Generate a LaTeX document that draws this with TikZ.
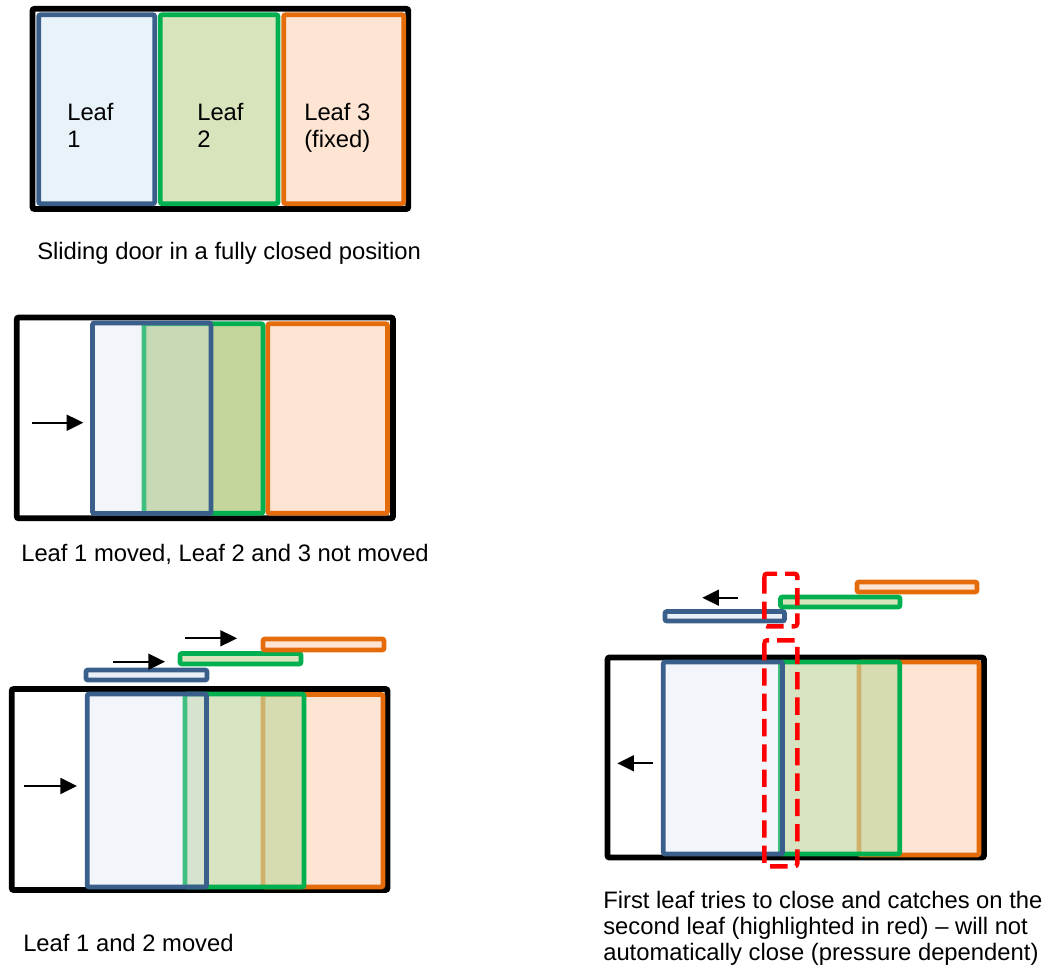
\documentclass[tikz,border=0pt]{standalone}
\usepackage{fontspec}
\setmainfont{Liberation Sans}
\usetikzlibrary{arrows.meta}
\definecolor{bluS}{HTML}{3A5F8B}
\definecolor{bluF}{HTML}{E7F2F9}
\definecolor{bluT}{RGB}{212,228,242}
\definecolor{bluB}{HTML}{E9EFF6}
\definecolor{grnS}{HTML}{00B050}
\definecolor{grnF}{HTML}{D8E4BC}
\definecolor{grnD}{RGB}{196,214,156}
\definecolor{grnT}{RGB}{196,215,160}
\definecolor{orgS}{HTML}{E46C0A}
\definecolor{orgF}{HTML}{FDE4D3}
\begin{document}
\begin{tikzpicture}[x=0.75pt,y=-0.75pt,
  frame/.style={draw=black,line width=4.3pt,rounded corners=1.5pt,fill=white},
  edgeblue/.style={draw=bluS,line width=3.6pt,rounded corners=1.5pt},
  edgegreen/.style={draw=grnS,line width=3.6pt,rounded corners=1.5pt},
  edgeorange/.style={draw=orgS,line width=3.6pt,rounded corners=1.5pt},
  bluetrans/.style={edgeblue,fill=bluT,fill opacity=0.3,draw opacity=1},
  greentrans/.style={edgegreen,fill=grnT,fill opacity=0.65,draw opacity=1},
  barblue/.style={edgeblue,fill=bluB},
  bargreen/.style={edgegreen,fill=grnF},
  barorange/.style={edgeorange,fill=orgF},
  mv/.style={-{Triangle[length=12.5pt,width=12pt]},line width=1.4pt,draw=black},
  lbl/.style={font=\fontsize{17.85}{20.25}\selectfont,inner sep=0pt,align=left},
  captext/.style={font=\fontsize{17.85}{19.5}\selectfont,inner sep=0pt,align=left},
  redbox/.style={draw=red,line width=3.3pt,dash pattern=on 13pt off 6pt,rounded corners=2pt}]
\useasboundingbox (0,0) rectangle (1053,972);

% ---------- Diagram 1: fully closed ----------
\draw[frame] (32.5,8.8) rectangle (408.3,209);
\draw[edgeblue,fill=bluF] (38.7,14.7) rectangle (154.7,203.7);
\draw[edgegreen,fill=grnF] (160.3,14.7) rectangle (278,203.7);
\draw[edgeorange,fill=orgF] (283.7,14.7) rectangle (403.7,203.7);
\node[lbl,anchor=north west] (l1) at (67,102.6) {Leaf\\1};
\node[lbl,anchor=north west] (l2) at (197,102.6) {Leaf\\2};
\node[lbl,anchor=north west] (l3) at (304,102.6) {Leaf 3\\(fixed)};
\node[lbl,anchor=base west] (c1) at (37,259) {Sliding door in a fully closed position};

% ---------- Diagram 2: leaf 1 moved ----------
\draw[frame] (16.7,317.5) rectangle (393,518.3);
\draw[edgeorange,fill=orgF] (267.8,323.7) rectangle (387.5,513.3);
\draw[edgegreen,fill=grnD] (144,323.7) rectangle (263,513.3);
\draw[bluetrans] (92.5,323) rectangle (211,513.5);
\coordinate (a2s) at (31.7,422.7);
\coordinate (a2e) at (83.3,422.7);
\draw[mv] (a2s) -- (a2e);
\node[lbl,anchor=base west] (c2) at (21,561) {Leaf 1 moved, Leaf 2 and 3 not moved};

% ---------- Diagram 3: leaf 1 and 2 moved ----------
\draw[frame] (11.7,689) rectangle (387.5,890);
\draw[edgeorange,fill=orgF] (263,694.5) rectangle (383,887);
\draw[greentrans] (185,694) rectangle (304,887);
\draw[bluetrans] (87.2,694) rectangle (206.5,887);
\draw[barblue] (86,670) rectangle (207,680);
\draw[bargreen] (180,653.5) rectangle (301,664);
\draw[barorange] (263,639) rectangle (384,650);
\coordinate (a3as) at (113,661.7);
\coordinate (a3ae) at (165,661.7);
\coordinate (a3bs) at (185,638.3);
\coordinate (a3be) at (237,638.3);
\coordinate (a3cs) at (24,786);
\coordinate (a3ce) at (77,786);
\draw[mv] (a3as) -- (a3ae);
\draw[mv] (a3bs) -- (a3be);
\draw[mv] (a3cs) -- (a3ce);
\node[lbl,anchor=base west] (c3) at (23,951) {Leaf 1 and 2 moved};

% ---------- Diagram 4: first leaf catches ----------
\draw[frame] (607.5,657.5) rectangle (984,857.5);
\draw[edgeorange,fill=orgF] (859,662) rectangle (979,855);
\draw[greentrans] (780.5,662) rectangle (899.8,854);
\draw[bluetrans] (663.3,662) rectangle (782.5,854);
\draw[barblue] (665,611.5) rectangle (784.5,621);
\draw[bargreen] (780.5,597) rectangle (900,607);
\draw[barorange] (857,582) rectangle (977,592);
\coordinate (a4as) at (738.3,597.7);
\coordinate (a4ae) at (702.3,597.7);
\coordinate (a4bs) at (653.3,763.3);
\coordinate (a4be) at (617.3,763.3);
\draw[mv] (a4as) -- (a4ae);
\draw[mv] (a4bs) -- (a4be);
\draw[redbox] (764.3,573.7) rectangle (797.3,626.3);
\draw[redbox] (764.3,640.3) rectangle (797.3,866.3);
\node[captext,anchor=north west] (c4) at (603,890.7) {First leaf tries to close and catches on the\\second leaf (highlighted in red) -- will not\\automatically close (pressure dependent)};
\end{tikzpicture}
\end{document}
